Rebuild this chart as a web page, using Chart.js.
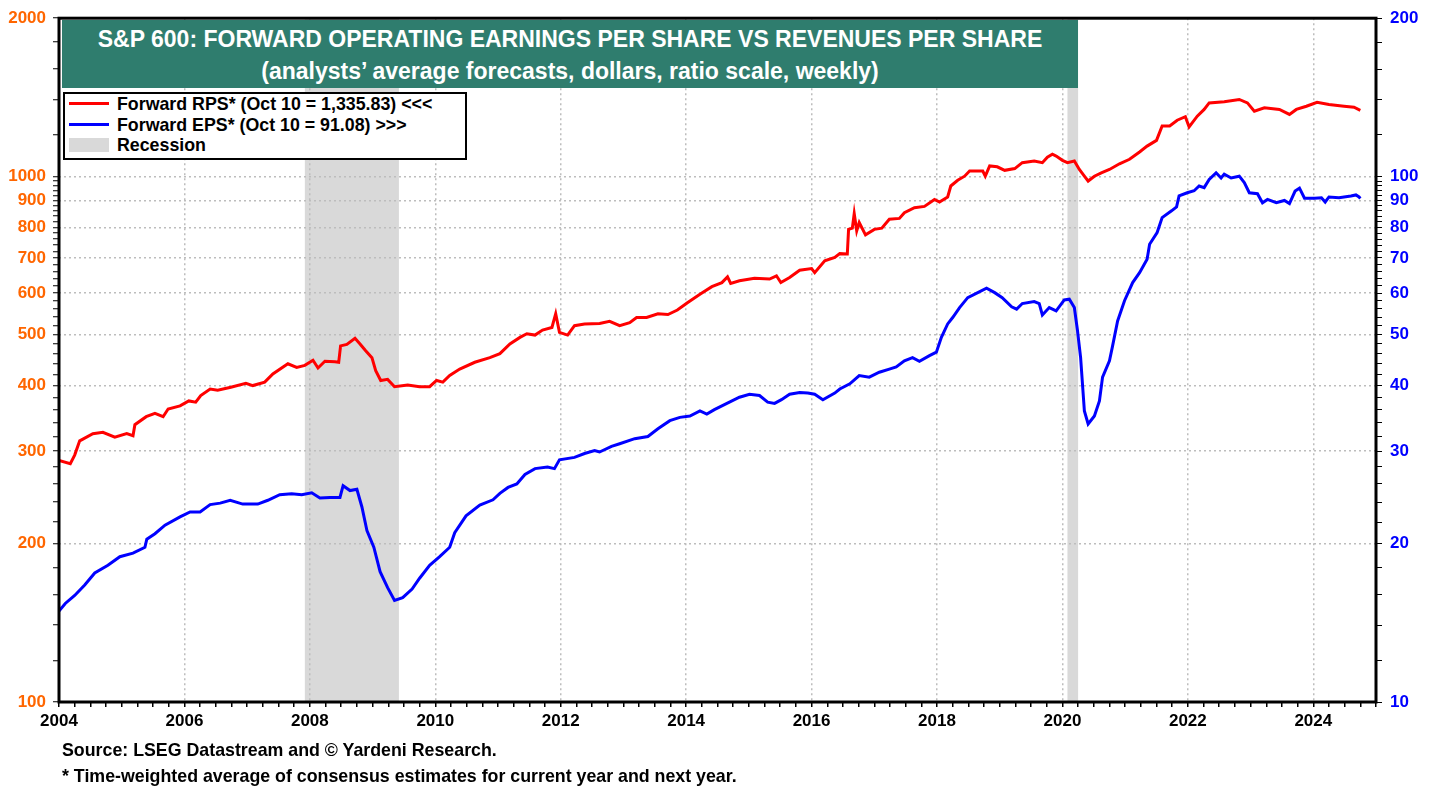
<!DOCTYPE html>
<html>
<head>
<meta charset="utf-8">
<script src="https://cdn.jsdelivr.net/npm/chart.js@4.4.0/dist/chart.umd.min.js"></script>
<style>
  body { margin: 0; background: #fff; font-family: "Liberation Sans", Arial, sans-serif; }
  #wrap { position: relative; width: 1438px; height: 787px; overflow: hidden; }
  #chart { position: absolute; left: 0; top: 0; }
  .abs { position: absolute; white-space: nowrap; font-weight: bold; }
  #title { left: 62px; top: 20px; width: 1016px; height: 68px; background: #2F7D6E; color: #fff; text-align: center; }
  #title .l1 { position: absolute; left: 0; right: 0; top: 5px; font-size: 23px; line-height: 28px; }
  #title .l2 { position: absolute; left: 0; right: 0; top: 37px; font-size: 23px; line-height: 28px; }
  #legend { left: 63px; top: 92px; width: 404px; height: 68px; box-sizing: border-box; border: 2px solid #000; background: #fff; }
  .leg { font-size: 17.8px; line-height: 20px; color: #000; }
  .note { font-size: 17.8px; line-height: 20px; color: #000; left: 62px; }
</style>
</head>
<body>
<div id="wrap">
  <canvas id="chart" width="1438" height="787"></canvas>
  <div id="title" class="abs">
    <div class="l1">S&amp;P 600: FORWARD OPERATING EARNINGS PER SHARE VS REVENUES PER SHARE</div>
    <div class="l2">(analysts’ average forecasts, dollars, ratio scale, weekly)</div>
  </div>
  <div id="legend" class="abs"></div>
  <div class="abs" style="left:69px;top:102px;width:40px;height:3px;background:#FF0000;"></div>
  <div class="abs leg" style="left:117px;top:94px;">Forward RPS* (Oct 10 = 1,335.83) &lt;&lt;&lt;</div>
  <div class="abs" style="left:69px;top:123px;width:40px;height:3px;background:#0000FF;"></div>
  <div class="abs leg" style="left:117px;top:115px;">Forward EPS* (Oct 10 = 91.08) &gt;&gt;&gt;</div>
  <div class="abs" style="left:69px;top:138px;width:40px;height:14px;background:#D9D9D9;"></div>
  <div class="abs leg" style="left:117px;top:135px;">Recession</div>
  <div class="abs note" style="top:740px;">Source: LSEG Datastream and © Yardeni Research.</div>
  <div class="abs note" style="top:766px;">* Time-weighted average of consensus estimates for current year and next year.</div>
</div>
<script>
// Forward revenues per share (left axis)
var rpsYears = [2004.00,2004.18,2004.25,2004.33,2004.54,2004.70,2004.89,2005.08,2005.18,2005.21,
  2005.39,2005.53,2005.66,2005.74,2005.93,2006.07,2006.18,2006.26,2006.41,2006.53,
  2006.74,2006.98,2007.09,2007.28,2007.41,2007.65,2007.79,2007.92,2008.05,2008.13,
  2008.24,2008.40,2008.46,2008.49,2008.59,2008.72,2008.80,2008.89,2008.99,2009.05,
  2009.13,2009.24,2009.35,2009.56,2009.75,2009.91,2010.02,2010.12,2010.23,2010.39,
  2010.63,2010.87,2011.03,2011.19,2011.35,2011.46,2011.59,2011.71,2011.86,2011.92,
  2011.98,2012.11,2012.22,2012.38,2012.62,2012.78,2012.94,2013.10,2013.21,2013.37,
  2013.55,2013.71,2013.86,2014.02,2014.22,2014.41,2014.57,2014.66,2014.71,2014.85,
  2015.09,2015.33,2015.44,2015.51,2015.65,2015.81,2016.00,2016.05,2016.21,2016.37,
  2016.45,2016.57,2016.59,2016.65,2016.68,2016.72,2016.76,2016.86,2017.00,2017.12,
  2017.24,2017.40,2017.48,2017.64,2017.80,2017.96,2018.04,2018.17,2018.22,2018.33,
  2018.44,2018.52,2018.73,2018.77,2018.84,2018.96,2019.08,2019.24,2019.36,2019.55,
  2019.68,2019.76,2019.84,2019.90,2020.00,2020.08,2020.19,2020.27,2020.35,2020.41,
  2020.51,2020.62,2020.75,2020.91,2021.07,2021.23,2021.35,2021.50,2021.59,2021.71,
  2021.83,2021.96,2022.02,2022.15,2022.26,2022.34,2022.58,2022.82,2022.95,2023.06,
  2023.22,2023.46,2023.62,2023.73,2023.89,2024.06,2024.25,2024.49,2024.65,2024.75];
var rpsValues = [288,284,295,314,324,326,319,324,321,337,
  349,354,349,361,366,374,372,383,394,392,
  397,404,400,406,421,440,433,437,447,432,
  445,444,443,476,479,492,480,466,452,427,
  409,411,398,401,398,398,409,406,418,430,
  443,452,460,480,494,502,499,510,516,548,
  505,499,520,524,525,530,520,527,539,539,
  548,546,557,575,597,617,628,644,626,633,
  640,638,647,628,642,663,668,656,691,701,
  713,712,793,797,850,788,817,774,793,797,
  829,832,853,872,877,904,894,914,959,983,
  1001,1024,1024,1001,1047,1043,1027,1035,1062,1070,
  1062,1088,1102,1093,1073,1062,1070,1031,1001,980,
  1001,1016,1031,1057,1078,1113,1142,1171,1247,1247,
  1279,1299,1242,1302,1341,1380,1387,1401,1380,1331,
  1351,1341,1312,1341,1360,1384,1370,1360,1354,1336];

// Forward earnings per share (right axis)
var epsYears = [2004.00,2004.10,2004.25,2004.41,2004.57,2004.78,2004.97,2005.18,2005.37,2005.40,
  2005.53,2005.69,2005.93,2006.09,2006.25,2006.41,2006.57,2006.73,2006.93,2007.17,
  2007.33,2007.52,2007.71,2007.87,2008.03,2008.16,2008.32,2008.48,2008.53,2008.64,
  2008.75,2008.83,2008.91,2009.02,2009.12,2009.24,2009.35,2009.48,2009.63,2009.75,
  2009.91,2010.07,2010.23,2010.31,2010.49,2010.71,2010.92,2011.03,2011.16,2011.30,
  2011.43,2011.59,2011.79,2011.90,2011.98,2012.22,2012.38,2012.54,2012.62,2012.81,
  2012.94,2013.18,2013.39,2013.55,2013.74,2013.90,2014.06,2014.22,2014.33,2014.45,
  2014.61,2014.85,2015.01,2015.17,2015.30,2015.41,2015.52,2015.65,2015.81,2015.94,
  2016.05,2016.18,2016.37,2016.45,2016.61,2016.76,2016.92,2017.08,2017.24,2017.35,
  2017.48,2017.61,2017.72,2017.88,2017.99,2018.07,2018.17,2018.25,2018.36,2018.49,
  2018.65,2018.79,2018.92,2019.04,2019.19,2019.27,2019.36,2019.55,2019.63,2019.68,
  2019.79,2019.90,2020.03,2020.11,2020.19,2020.24,2020.29,2020.35,2020.41,2020.51,
  2020.59,2020.64,2020.75,2020.80,2020.88,2020.99,2021.12,2021.23,2021.35,2021.39,
  2021.51,2021.59,2021.74,2021.82,2021.86,2021.99,2022.10,2022.18,2022.26,2022.34,
  2022.45,2022.53,2022.58,2022.69,2022.82,2022.90,2022.98,2023.11,2023.19,2023.27,
  2023.41,2023.54,2023.62,2023.71,2023.78,2023.86,2024.02,2024.13,2024.19,2024.25,
  2024.41,2024.60,2024.68,2024.73,2024.75];
var epsValues = [14.9,15.4,15.95,16.7,17.6,18.2,18.9,19.2,19.7,20.4,
  20.9,21.7,22.5,23.0,23.0,23.75,23.9,24.2,23.8,23.8,
  24.2,24.8,24.9,24.8,25.0,24.45,24.5,24.5,25.8,25.25,
  25.4,23.5,21.2,19.7,17.7,16.5,15.6,15.8,16.4,17.2,
  18.2,18.9,19.7,21.0,22.6,23.7,24.25,24.95,25.6,26.0,
  27.1,27.8,28.0,27.8,28.9,29.2,29.7,30.1,29.9,30.65,
  31.0,31.7,32.0,33.1,34.3,34.8,35.0,35.8,35.3,36.0,
  36.8,38.0,38.5,38.3,37.2,37.0,37.6,38.5,38.8,38.7,
  38.5,37.6,38.7,39.4,40.3,41.8,41.5,42.4,43.0,43.4,
  44.6,45.2,44.5,45.6,46.3,49.4,52.4,53.9,56.3,58.8,
  60.1,61.3,60.1,58.8,56.5,55.9,57.3,57.8,57.3,54.5,
  56.3,55.5,58.2,58.4,56.3,50.9,45.2,35.8,33.8,35.0,
  37.4,41.5,44.6,47.6,53.1,58.0,62.8,65.6,69.6,74.3,
  78.2,83.5,86.0,87.5,91.8,93.1,93.9,95.9,95.2,98.7,
  101.6,99.3,101.0,99.3,100.1,97.3,93.1,92.7,89.1,90.4,
  89.1,90.0,88.8,93.8,95.0,90.9,90.9,91.1,89.4,91.4,
  91.1,91.8,92.2,91.4,90.8];

var recessions = [[2007.92, 2009.42], [2020.08, 2020.25]];
var xTickYears = [2004, 2006, 2008, 2010, 2012, 2014, 2016, 2018, 2020, 2022, 2024];
var leftTickLabels = [100, 200, 300, 400, 500, 600, 700, 800, 900, 1000, 2000];
var rightTickLabels = [10, 20, 30, 40, 50, 60, 70, 80, 90, 100, 200];

var FONT = 'Liberation Sans, Arial, sans-serif';
var GRID = '#BDBDBD';

function toPoints(xs, ys) {
  return xs.map(function (x, i) { return { x: x, y: ys[i] }; });
}

// tick marks on the log axes: fine steps below 10x, coarser above
function logTicks(lo, hi) {
  var t = [];
  for (var v = lo; v < lo * 10; v += lo / 5) t.push({ value: v });
  for (var w = lo * 10; w <= hi; w += lo * 2) t.push({ value: w });
  return t;
}

// grey recession bands, under the grid
var recessionPlugin = {
  id: 'recessions',
  beforeDraw: function (chart) {
    var c = chart.ctx, a = chart.chartArea, x = chart.scales.x;
    c.save();
    c.fillStyle = '#D9D9D9';
    recessions.forEach(function (r) {
      var x0 = x.getPixelForValue(r[0]), x1 = x.getPixelForValue(r[1]);
      c.fillRect(x0, a.top, x1 - x0, a.bottom - a.top);
    });
    c.restore();
  }
};

// thick black frame round the plot
var framePlugin = {
  id: 'frame',
  afterDatasetsDraw: function (chart) {
    var c = chart.ctx, a = chart.chartArea;
    c.save();
    c.lineWidth = 3;
    c.strokeStyle = '#000';
    c.strokeRect(a.left, a.top, a.right - a.left, a.bottom - a.top);
    c.restore();
  }
};

var ctx = document.getElementById('chart').getContext('2d');
var chart = new Chart(ctx, {
  type: 'line',
  data: {
    datasets: [{
      label: 'Forward RPS',
      data: toPoints(rpsYears, rpsValues),
      borderColor: '#FF0000',
      borderWidth: 3,
      pointRadius: 0,
      yAxisID: 'y'
    }, {
      label: 'Forward EPS',
      data: toPoints(epsYears, epsValues),
      borderColor: '#0000FF',
      borderWidth: 3,
      pointRadius: 0,
      yAxisID: 'y2'
    }]
  },
  options: {
    responsive: false,
    animation: false,
    layout: { padding: { top: 17, left: 0, right: 0, bottom: 0 } },
    plugins: { legend: { display: false }, tooltip: { enabled: false } },
    scales: {
      x: {
        type: 'linear',
        min: 2004,
        max: 2025,
        afterBuildTicks: function (s) {
          var t = [];
          for (var i = 0; i <= 84; i++) t.push({ value: 2004 + i / 4 });
          s.ticks = t;
        },
        afterFit: function (s) { s.height = 85; },
        ticks: {
          autoSkip: false,
          maxRotation: 0,
          padding: 4,
          color: '#000',
          font: { family: FONT, size: 17, weight: 'bold' },
          callback: function (v) { return xTickYears.indexOf(v) >= 0 ? String(v) : ''; }
        },
        grid: {
          color: function (c) {
            return c.tick && c.tick.value !== 2004 && xTickYears.indexOf(c.tick.value) >= 0 ? GRID : 'rgba(0,0,0,0)';
          },
          lineWidth: 1.5,
          tickColor: '#000',
          tickWidth: 1.5,
          tickLength: 5
        },
        border: { display: false, dash: [2, 3] }
      },
      y: {
        type: 'logarithmic',
        position: 'left',
        min: 100,
        max: 2000,
        afterBuildTicks: function (s) { s.ticks = logTicks(100, 2000); },
        afterFit: function (s) { s.width = 59; },
        ticks: {
          autoSkip: false,
          padding: 7,
          color: '#FF6600',
          font: { family: FONT, size: 17, weight: 'bold' },
          callback: function (v) { return leftTickLabels.indexOf(v) >= 0 ? String(v) : ''; }
        },
        grid: {
          color: function (c) {
            var v = c.tick && c.tick.value;
            return v !== 100 && v !== 2000 && leftTickLabels.indexOf(v) >= 0 ? GRID : 'rgba(0,0,0,0)';
          },
          lineWidth: 1.5,
          tickColor: '#000',
          tickWidth: 1,
          tickLength: 6
        },
        border: { display: false, dash: [2, 3] }
      },
      y2: {
        type: 'logarithmic',
        position: 'right',
        min: 10,
        max: 200,
        afterBuildTicks: function (s) { s.ticks = logTicks(10, 200); },
        afterFit: function (s) { s.width = 62; },
        ticks: {
          autoSkip: false,
          padding: 8,
          color: '#0000FF',
          font: { family: FONT, size: 17, weight: 'bold' },
          callback: function (v) { return rightTickLabels.indexOf(v) >= 0 ? String(v) : ''; }
        },
        grid: {
          drawOnChartArea: false,
          tickColor: '#000',
          tickWidth: 1,
          tickLength: 6
        },
        border: { display: false }
      }
    }
  },
  plugins: [recessionPlugin, framePlugin]
});
</script>
</body>
</html>
